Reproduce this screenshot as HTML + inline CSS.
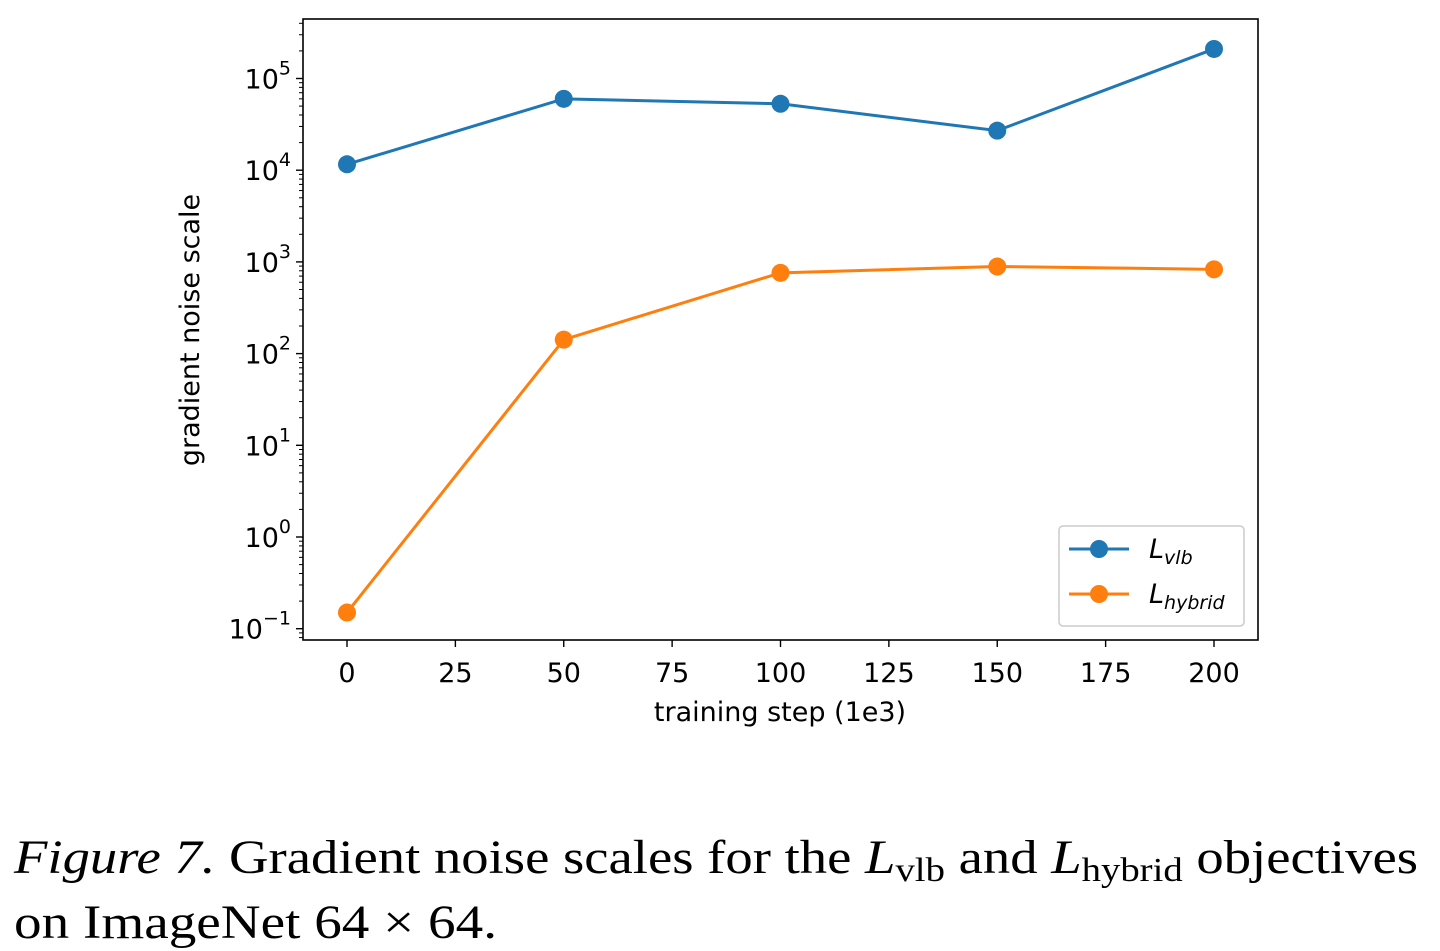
<!DOCTYPE html>
<html><head><meta charset="utf-8"><style>
body{margin:0;background:#fff;width:1440px;height:951px;overflow:hidden}
svg{position:absolute;left:0;top:0}
</style></head><body>
<svg id="chart" width="1440" height="951" xmlns="http://www.w3.org/2000/svg" font-family="DejaVu Sans, Liberation Sans, sans-serif">
<g id="g"></g>
</svg>
<script>
const steps=[0,50,100,150,200];
const vlb=[11600,60000,53000,27000,210000];
const hybrid=[0.15,142,760,890,830];
const xTicks=[0,25,50,75,100,125,150,175,200];
const yExps=[-1,0,1,2,3,4,5];
const NS="http://www.w3.org/2000/svg";
const L=303,R=1258,T=19,B=640;
const x=v=>347+(v/200)*(1214-347);
const y=v=>537-Math.log10(v)*91.7;
const g=document.getElementById('g');
function mk(t,a,p){const e=document.createElementNS(NS,t);for(const k in a)e.setAttribute(k,a[k]);(p||g).appendChild(e);return e;}
const frame=mk('rect',{x:L,y:T,width:R-L,height:B-T,fill:'none',stroke:'#000','stroke-width':1.6});


xTicks.forEach(v=>{
  const tk=mk('line',{x1:x(v),x2:x(v),y1:B,y2:B+7,stroke:'#000','stroke-width':1.4});
  
  
  const t=mk('text',{x:x(v),y:B+42,'text-anchor':'middle','font-size':27});
  t.textContent=v;
  
  
});
yExps.forEach(e=>{
  const yy=y(Math.pow(10,e));
  const tk=mk('line',{x1:L-7,x2:L,y1:yy,y2:yy,stroke:'#000','stroke-width':1.4});
  
  
  const t=mk('text',{x:L-12,y:yy+10,'text-anchor':'end','font-size':27});
  t.innerHTML='10<tspan font-size="19" dy="-14">'+(e<0?'\u2212'+(-e):String(e))+'</tspan>';
  
  
  for(let m=2;m<10;m++){
    const my=y(m*Math.pow(10,e));
    if(my>T&&my<B){const mt=mk('line',{x1:L-4,x2:L,y1:my,y2:my,stroke:'#000','stroke-width':1});
    
    }
  }
});
for(let m=9;m>=1;m--){const my=y(m*0.01);if(my<B){const mt=mk('line',{x1:L-4,x2:L,y1:my,y2:my,stroke:'#000','stroke-width':1});}}
function series(vals,col,name){
  const pl=mk('polyline',{points:steps.map((s,i)=>x(s)+','+y(vals[i])).join(' '),fill:'none',stroke:col,'stroke-width':3});
  
  
  steps.forEach((s,i)=>{const c=mk('circle',{cx:x(s),cy:y(vals[i]),r:9,fill:col});
  
  });
}
series(vlb,'#1f77b4','vlb');
series(hybrid,'#ff7f0e','hybrid');
const xl=mk('text',{x:780,y:721,'text-anchor':'middle','font-size':27});xl.textContent='training step (1e3)';


const yl=mk('text',{x:199,y:330,'text-anchor':'middle','font-size':27,transform:'rotate(-90 199 330)'});yl.textContent='gradient noise scale';


const lg=mk('rect',{x:1059,y:526,width:185,height:100,rx:4,fill:'#fff',stroke:'#ccc','stroke-width':1.5});


[['#1f77b4','vlb',549],['#ff7f0e','hybrid',594]].forEach(([c,n,yy])=>{
  const l=mk('line',{x1:1069,x2:1129,y1:yy,y2:yy,stroke:c,'stroke-width':3});
  
  
  mk('circle',{cx:1099,cy:yy,r:9,fill:c});
  const t=mk('text',{x:1149,y:yy+9,'font-size':27,'font-style':'italic'});
  t.innerHTML='L<tspan font-size="19" dy="6">'+n+'</tspan>';
  
  
});
const c1=mk('text',{x:14,y:873,'font-size':48,'font-family':'Liberation Serif, serif',textLength:1404,lengthAdjust:'spacingAndGlyphs'});
c1.innerHTML='<tspan font-style="italic">Figure 7.</tspan>  Gradient noise scales for the <tspan font-style="italic">L</tspan><tspan font-size="34" dy="8">vlb</tspan><tspan dy="-8"> and </tspan><tspan font-style="italic">L</tspan><tspan font-size="34" dy="8">hybrid</tspan><tspan dy="-8"> objectives</tspan>';


const c2=mk('text',{x:14,y:938,'font-size':48,'font-family':'Liberation Serif, serif',textLength:483,lengthAdjust:'spacingAndGlyphs'});
c2.textContent='on ImageNet 64 \u00d7 64.';


</script>
</body></html>
